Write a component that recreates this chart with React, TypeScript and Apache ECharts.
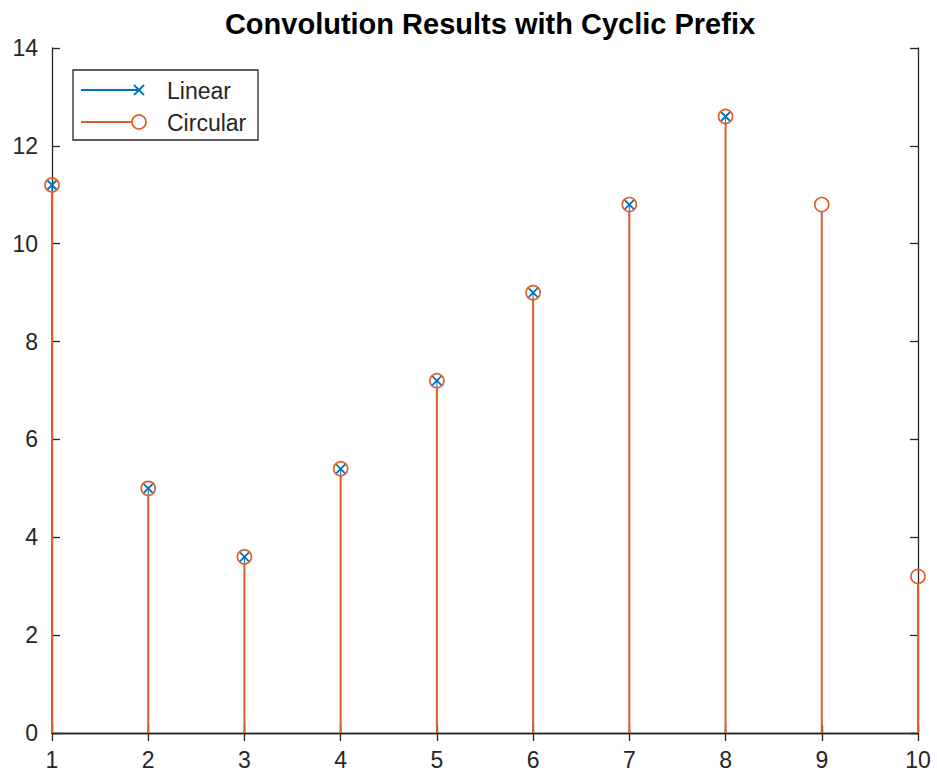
import React, { useEffect, useRef } from "react";
import * as echarts from "echarts";

const xValues = [1, 2, 3, 4, 5, 6, 7, 8, 9, 10];
const linearValues = [11.2, 5, 3.6, 5.4, 7.2, 9, 10.8, 12.6];
const circularValues = [11.2, 5, 3.6, 5.4, 7.2, 9, 10.8, 12.6, 10.8, 3.2];
const xTicks = [1, 2, 3, 4, 5, 6, 7, 8, 9, 10];
const yTicks = [0, 2, 4, 6, 8, 10, 12, 14];

const BLUE = "#0072BD";
const ORANGE = "#DF5F28";
const AXIS = "#262626";
const FONT = "'Liberation Sans', Arial, Helvetica, sans-serif";

function stemSeries(
  name: string,
  values: number[],
  color: string,
  marker: "x" | "o",
  z: number,
  stemWidth: number
) {
  return {
    type: "custom",
    name,
    z,
    xAxisIndex: 0,
    yAxisIndex: 0,
    data: values.map((v, i) => [xValues[i], v]),
    clip: false,
    renderItem: (params: any, api: any) => {
      const x = api.value(0);
      const y = api.value(1);
      const top = api.coord([x, y]);
      const base = api.coord([x, 0]);
      const r = 7;
      const children: any[] = [
        {
          type: "line",
          shape: {
            x1: base[0],
            y1: base[1],
            x2: top[0],
            y2: marker === "o" ? top[1] + r : top[1],
          },
          style: { stroke: color, lineWidth: stemWidth },
        },
      ];
      if (marker === "o") {
        children.push({
          type: "circle",
          shape: { cx: top[0], cy: top[1], r },
          style: { fill: "none", stroke: color, lineWidth: 1.7 },
        });
      } else {
        const d = 4.5;
        children.push({
          type: "line",
          shape: { x1: top[0] - d, y1: top[1] - d, x2: top[0] + d, y2: top[1] + d },
          style: { stroke: color, lineWidth: 1.8 },
        });
        children.push({
          type: "line",
          shape: { x1: top[0] - d, y1: top[1] + d, x2: top[0] + d, y2: top[1] - d },
          style: { stroke: color, lineWidth: 1.8 },
        });
      }
      return { type: "group", children };
    },
  };
}

export default function App() {
  const ref = useRef<HTMLDivElement>(null);
  useEffect(() => {
    if (!ref.current) return;
    const chart = echarts.init(ref.current, undefined, { renderer: "svg" });
    const axisLabel = { color: AXIS, fontSize: 23, fontFamily: FONT };
    const legendX = 73;
    const legendY = 70;
    const tickStyle = { show: true, inside: true, length: 8, lineStyle: { color: AXIS, width: 1.3 } };
    const lineStyle = { show: true, lineStyle: { color: AXIS, width: 1.3 } };
    chart.setOption({
      animation: false,
      backgroundColor: "#ffffff",
      title: {
        text: "Convolution Results with Cyclic Prefix",
        left: 485,
        top: 4,
        textAlign: "center",
        textStyle: { color: "#000000", fontSize: 29, fontWeight: "bold", fontFamily: FONT },
      },
      grid: { left: 52, right: 19, top: 48, bottom: 41, containLabel: false },
      xAxis: [
        {
          type: "value",
          min: 1,
          max: 10,
          interval: 1,
          position: "bottom",
          axisLine: lineStyle,
          axisTick: tickStyle,
          axisLabel: { ...axisLabel, margin: 15, formatter: (v: number) => (xTicks.includes(v) ? String(v) : "") },
          splitLine: { show: false },
        },
        {
          type: "value",
          min: 1,
          max: 10,
          interval: 1,
          position: "top",
          axisLine: lineStyle,
          axisTick: tickStyle,
          axisLabel: { show: false },
          splitLine: { show: false },
        },
      ],
      yAxis: [
        {
          type: "value",
          min: 0,
          max: 14,
          interval: 2,
          position: "left",
          axisLine: lineStyle,
          axisTick: tickStyle,
          axisLabel: { ...axisLabel, margin: 14, formatter: (v: number) => (yTicks.includes(v) ? String(v) : "") },
          splitLine: { show: false },
        },
        {
          type: "value",
          min: 0,
          max: 14,
          interval: 2,
          position: "right",
          axisLine: lineStyle,
          axisTick: tickStyle,
          axisLabel: { show: false },
          splitLine: { show: false },
        },
      ],
      series: [
        stemSeries("Linear", linearValues, BLUE, "x", 2, 1),
        stemSeries("Circular", circularValues, ORANGE, "o", 3, 2),
      ],
      graphic: [
        {
          type: "rect",
          shape: { x: legendX, y: legendY, width: 185, height: 70 },
          style: { fill: "#ffffff", stroke: AXIS, lineWidth: 1.3 },
          z: 100,
        },
        {
          type: "line",
          shape: { x1: legendX + 8, y1: legendY + 20, x2: legendX + 66, y2: legendY + 20 },
          style: { stroke: BLUE, lineWidth: 2 },
          z: 101,
        },
        {
          type: "line",
          shape: { x1: legendX + 61, y1: legendY + 15, x2: legendX + 71, y2: legendY + 25 },
          style: { stroke: BLUE, lineWidth: 1.8 },
          z: 101,
        },
        {
          type: "line",
          shape: { x1: legendX + 61, y1: legendY + 25, x2: legendX + 71, y2: legendY + 15 },
          style: { stroke: BLUE, lineWidth: 1.8 },
          z: 101,
        },
        {
          type: "text",
          x: legendX + 94,
          y: legendY + 21,
          style: { text: "Linear", fill: AXIS, fontSize: 23, fontFamily: FONT, verticalAlign: "middle" },
          z: 101,
        },
        {
          type: "line",
          shape: { x1: legendX + 8, y1: legendY + 52, x2: legendX + 59, y2: legendY + 52 },
          style: { stroke: ORANGE, lineWidth: 2 },
          z: 101,
        },
        {
          type: "circle",
          shape: { cx: legendX + 66, cy: legendY + 52, r: 7 },
          style: { fill: "none", stroke: ORANGE, lineWidth: 1.7 },
          z: 101,
        },
        {
          type: "text",
          x: legendX + 94,
          y: legendY + 53,
          style: { text: "Circular", fill: AXIS, fontSize: 23, fontFamily: FONT, verticalAlign: "middle" },
          z: 101,
        },
      ],
    });
    return () => chart.dispose();
  }, []);
  return (
    <div
      ref={ref}
      style={{ position: "absolute", left: 0, top: 0, width: 937, height: 774, background: "#fff" }}
    />
  );
}
